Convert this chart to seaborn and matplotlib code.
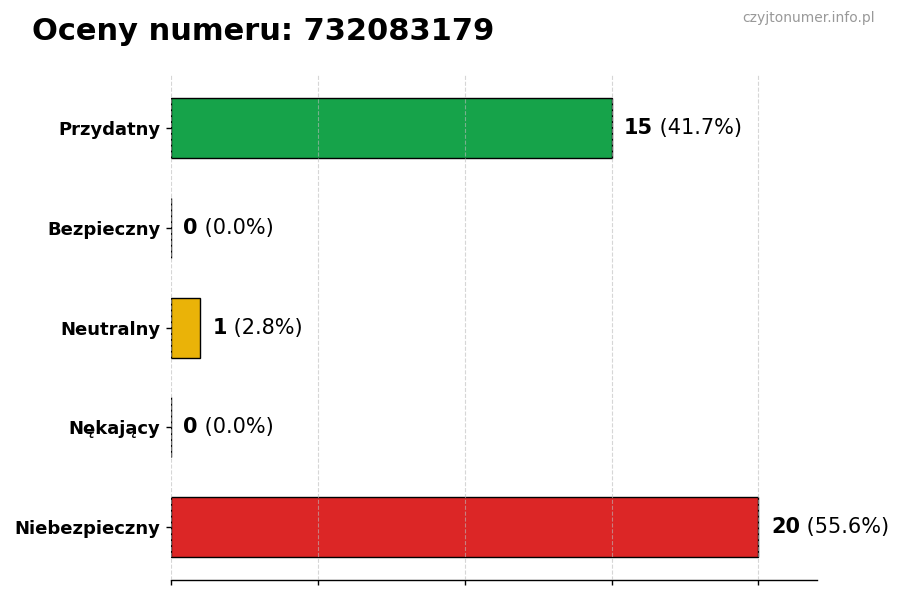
import matplotlib
matplotlib.use("Agg")
import matplotlib.pyplot as plt
import seaborn as sns
import pandas as pd

# Data
categories = ["Przydatny", "Bezpieczny", "Neutralny", "Nękający", "Niebezpieczny"]
counts = [15, 0, 1, 0, 20]
bar_colors = ["#16a34a", "#6b7280", "#eab308", "#6b7280", "#dc2626"]
phone_number = "732083179"

total = sum(counts)
df = pd.DataFrame({"category": categories, "count": counts})

sns.set_theme(style="white")
plt.rcParams["font.family"] = ["DejaVu Sans"]
plt.rcParams["text.color"] = "black"

fig = plt.figure(figsize=(9, 6), dpi=100)
ax = fig.add_axes([0.19, 0.033, 0.718, 0.842])

sns.barplot(data=df, y="category", x="count", hue="category", palette=bar_colors,
            legend=False, orient="h", width=0.6, edgecolor="black", linewidth=1,
            saturation=1, ax=ax)

ax.set_xlim(0, 22)
ax.set_ylim(len(categories) - 1 + 0.53, -0.53)
ax.set_xticks([0, 5, 10, 15, 20])
ax.set_xticklabels([])
ax.set_xlabel("")
ax.set_ylabel("")
ax.tick_params(axis="x", length=3.5, width=1, color="black", bottom=True)
ax.tick_params(axis="y", length=3.5, width=1, color="black", left=True, pad=4)
for lbl in ax.get_yticklabels():
    lbl.set_fontweight("bold")
    lbl.set_fontsize(13)
    lbl.set_color("black")

# grid sits on top of the bars, faint
ax.set_axisbelow(False)
ax.grid(axis="x", linestyle="--", color="#bbbbbb", linewidth=0.8, alpha=0.6)
for side in ["top", "right", "left"]:
    ax.spines[side].set_visible(False)
ax.spines["bottom"].set_color("black")
ax.spines["bottom"].set_linewidth(1)

# value labels
for i, c in enumerate(counts):
    pct = c / total * 100
    t = ax.annotate(f"{c}", xy=(c, i), xytext=(9, 0), textcoords="offset points",
                    va="center", ha="left", fontsize=15, fontweight="bold",
                    color="black")
    ax.annotate(f" ({pct:.1f}%)", xycoords=t, xy=(1, 0.5), va="center", ha="left",
                fontsize=15, color="black")

fig.text(0.035, 0.948, f"Oceny numeru: {phone_number}", fontsize=22,
         fontweight="bold", ha="left", va="center", color="black")
fig.text(0.972, 0.97, "czyjtonumer.info.pl", fontsize=10, color="#999999",
         ha="right", va="center")

fig.savefig("out.png", dpi=100)
